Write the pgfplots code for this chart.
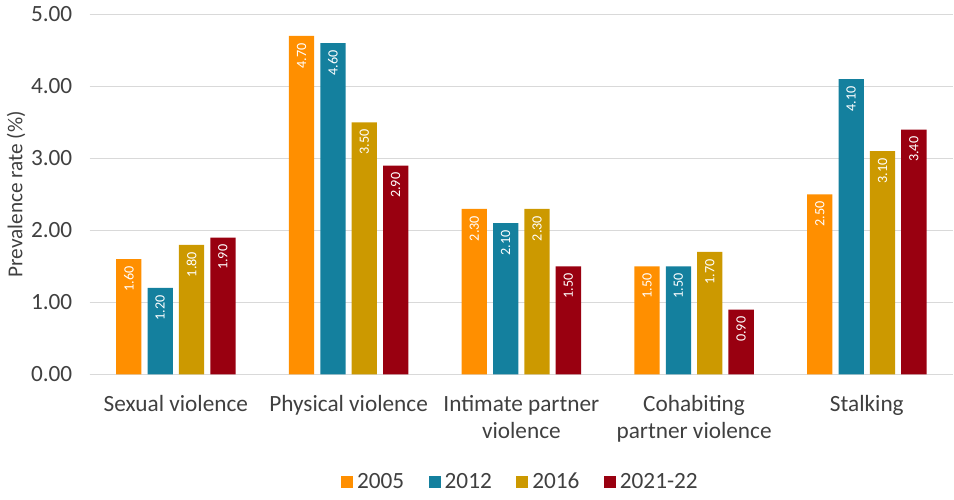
\documentclass[border=0pt]{standalone}
\usepackage{pgfplots}
\pgfplotsset{compat=1.18}
\usepackage{fontspec}
\setmainfont{Carlito}
\definecolor{cA}{RGB}{255,143,0}
\definecolor{cB}{RGB}{20,128,158}
\definecolor{cC}{RGB}{204,153,0}
\definecolor{cD}{RGB}{153,0,16}
\definecolor{txt}{RGB}{64,64,64}
\definecolor{gridc}{RGB}{217,217,217}
\begin{document}
\begin{tikzpicture}
\begin{axis}[
  scale only axis,
  width=427pt, height=178pt,
  xmin=-0.5, xmax=4.5,
  ymin=0, ymax=5,
  ytick={0,1,2,3,4,5},
  yticklabel style={/pgf/number format/fixed, /pgf/number format/fixed zerofill, /pgf/number format/precision=2, /pgf/number format/assume math mode=true, font=\fontsize{11.5}{13}\selectfont, text=txt, xshift=-5pt},
  xtick={0,1,2,3,4},
  xticklabels={Sexual violence, Physical violence, Intimate partner\\violence, Cohabiting\\partner violence, Stalking},
  xticklabel style={font=\fontsize{11.5}{13.2}\selectfont, text=txt, align=center, anchor=north, yshift=-7pt},
  major tick length=0pt,
  ymajorgrids, grid style={gridc, line width=0.6pt},
  axis x line*=bottom,
  axis y line*=left,
  y axis line style={draw=none},
  x axis line style={gridc, line width=0.8pt, -},
  ylabel={Prevalence rate (\%)},
  ylabel style={font=\fontsize{10.5}{12}\selectfont, text=txt, yshift=-4pt},
  ybar, bar width=12.5pt,
  every axis plot/.append style={draw=none},
  nodes near coords,
  nodes near coords style={rotate=90, anchor=east, font=\fontsize{7}{8}\selectfont, text=white, /pgf/number format/fixed, /pgf/number format/fixed zerofill, /pgf/number format/precision=2, /pgf/number format/assume math mode=true},
  legend style={at={(0.5,-0.25)}, anchor=north, draw=none, legend columns=-1, font=\fontsize{11.5}{13}\selectfont, text=txt, /tikz/every even column/.append style={column sep=10pt}},
  legend image code/.code={\fill[#1] (0pt,-3pt) rectangle (6pt,3pt);},
  clip=false,
]
\addplot[fill=cA, bar shift=-23.25pt] coordinates {(0,1.6) (1,4.7) (2,2.3) (3,1.5) (4,2.5)};
\addplot[fill=cB, bar shift=-7.75pt] coordinates {(0,1.2) (1,4.6) (2,2.1) (3,1.5) (4,4.1)};
\addplot[fill=cC, bar shift=7.75pt] coordinates {(0,1.8) (1,3.5) (2,2.3) (3,1.7) (4,3.1)};
\addplot[fill=cD, bar shift=23.25pt] coordinates {(0,1.9) (1,2.9) (2,1.5) (3,0.9) (4,3.4)};
\legend{2005, 2012, 2016, 2021-22}
\end{axis}
\end{tikzpicture}
\end{document}
